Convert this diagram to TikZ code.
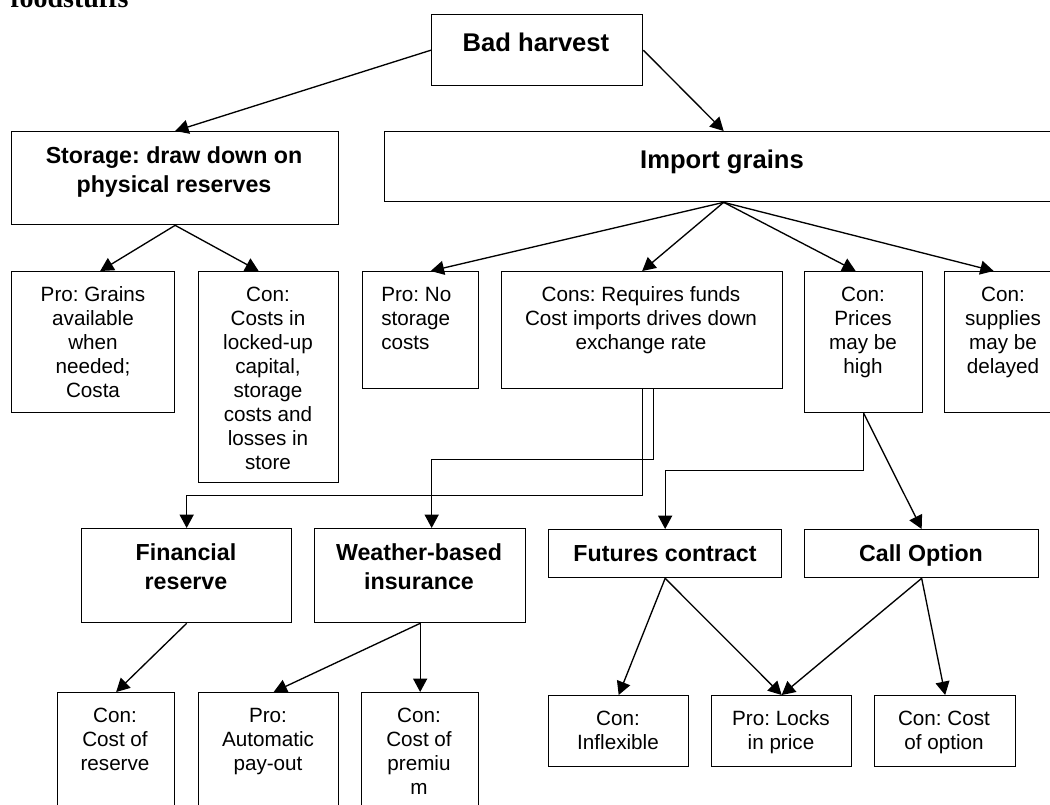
\documentclass[tikz,border=0pt]{standalone}
\usepackage{fontspec}
\setmainfont{Liberation Sans}
\newfontfamily\titleserif{Liberation Serif}
\usetikzlibrary{arrows.meta,calc}
\frenchspacing
\newcommand\firststrut{\rule{0pt}{16pt}}
\newcommand\mkbox[5]{\node[box, anchor=north west, minimum width={(#4-#2)*0.75pt}, minimum height={(#5-#3)*0.75pt}] (#1) at (#2,#3) {};}
\tikzset{
  x=0.75pt, y=-0.75pt,
  box/.style={draw, line width=1pt, inner sep=0pt, rectangle},
  arr/.style={-{Triangle[length=10pt,width=10.5pt]}, line width=1pt},
  reg/.style={inner sep=0pt, align=center, anchor=north, font=\fontsize{15.5}{18}\selectfont},
  bld/.style={inner sep=0pt, align=center, anchor=north, font=\bfseries\fontsize{17.4}{21.5}\selectfont},
  big/.style={inner sep=0pt, align=center, anchor=north, font=\bfseries\fontsize{19.2}{23}\selectfont},
}
\begin{document}
\begin{tikzpicture}
\useasboundingbox (0,0) rectangle (1050,804);
\clip (0,0) rectangle (1050,804);
% title fragment
\node[anchor=base west, inner sep=0pt, font=\titleserif\bfseries\fontsize{21}{24}\selectfont] (title) at (10,7.5) {foodstuffs};
% boxes
\mkbox{bh}{431}{14}{642}{85}
\mkbox{st}{11}{131}{338}{224}
\mkbox{im}{384}{131}{1062}{201}
\mkbox{pg}{11}{271}{174}{412}
\mkbox{cc}{198}{271}{338}{482}
\mkbox{pn}{362}{271}{478}{388}
\mkbox{cr}{501}{271}{782}{388}
\mkbox{cp}{804}{271}{922}{412}
\mkbox{cs}{944}{271}{1062}{412}
\mkbox{fr}{81}{528}{291}{622}
\mkbox{wi}{314}{528}{525}{622}
\mkbox{fc}{548}{529}{781}{577}
\mkbox{co}{804}{529}{1038}{577}
\mkbox{ro}{57}{692}{174}{840}
\mkbox{ap}{198}{692}{338}{840}
\mkbox{pm}{361}{692}{478}{840}
\mkbox{inf}{548}{695}{688}{766}
\mkbox{lp}{711}{695}{851}{766}
\mkbox{oc}{874}{695}{1015}{766}
% texts
\node[big] (tbh) at (536,30) {\firststrut Bad harvest};
\node[big] (tim) at (722,147) {\firststrut Import grains};
\node[bld] (tst) at (174,142) {\firststrut Storage: draw down on\\physical reserves};
\node[reg] (tpg) at (93,280) {\firststrut Pro: Grains\\available\\when\\needed;\\Costa};
\node[reg] (tcc) at (268,280) {\firststrut Con:\\Costs in\\locked-up\\capital,\\storage\\costs and\\losses in\\store};
\node[reg, align=left, anchor=north west] (tpn) at (381,280) {\firststrut Pro: No\\storage\\costs};
\node[reg] (tcr) at (641,280) {\firststrut Cons: Requires funds\\Cost imports drives down\\exchange rate};
\node[reg] (tcp) at (863,280) {\firststrut Con:\\Prices\\may be\\high};
\node[reg] (tcs) at (1003,280) {\firststrut Con:\\supplies\\may be\\delayed};
\node[bld] (tfr) at (186,539) {\firststrut Financial\\reserve};
\node[bld] (twi) at (419,539) {\firststrut Weather-based\\insurance};
\node[bld] (tfc) at (665,540) {\firststrut Futures contract};
\node[bld] (tco) at (921,540) {\firststrut Call Option};
\node[reg] (tro) at (115,701) {\firststrut Con:\\Cost of\\reserve};
\node[reg] (tap) at (268,701) {\firststrut Pro:\\Automatic\\pay-out};
\node[reg] (tpm) at (419,701) {\firststrut Con:\\Cost of\\premiu\\m};
\node[reg] (tinf) at (618,704) {\firststrut Con:\\Inflexible};
\node[reg] (tlp) at (781,704) {\firststrut Pro: Locks\\in price};
\node[reg] (toc) at (944,704) {\firststrut Con: Cost\\of option};
% connectors
\draw[arr] (bh.west) -- (st.north);
\draw[arr] (bh.east) -- (im.north);
\draw[arr] (st.south) -- ($(pg.north)+(7,0)$);
\draw[arr] (st.south) -- ($(cc.north)+(-10,0)$);
\draw[arr] (im.south) -- ($(pn.north)+(10,0)$);
\draw[arr] (im.south) -- (cr.north);
\draw[arr] (im.south) -- ($(cp.north)+(-8,0)$);
\draw[arr] (im.south) -- ($(cs.north)+(-10,0)$);
\draw[arr] (cr.south) -- ++(0,106) -| (fr.north);
\draw[arr] ($(cr.south)+(11,0)$) -- ++(0,70) -| ($(wi.north)+(11.5,0)$);
\draw[arr] (cp.south) -- ++(0,57) -| (fc.north);
\draw[arr] (cp.south) -- (co.north);
\draw[arr] (fr.south) -- (ro.north);
\draw[arr] (wi.south) -- ($(ap.north)+(5,0)$);
\draw[arr] (wi.south) -- (pm.north);
\draw[arr] (fc.south) -- (inf.north);
\draw[arr] (fc.south) -- (lp.north);
\draw[arr] (co.south) -- (lp.north);
\draw[arr] (co.south) -- (oc.north);
\end{tikzpicture}
\end{document}
